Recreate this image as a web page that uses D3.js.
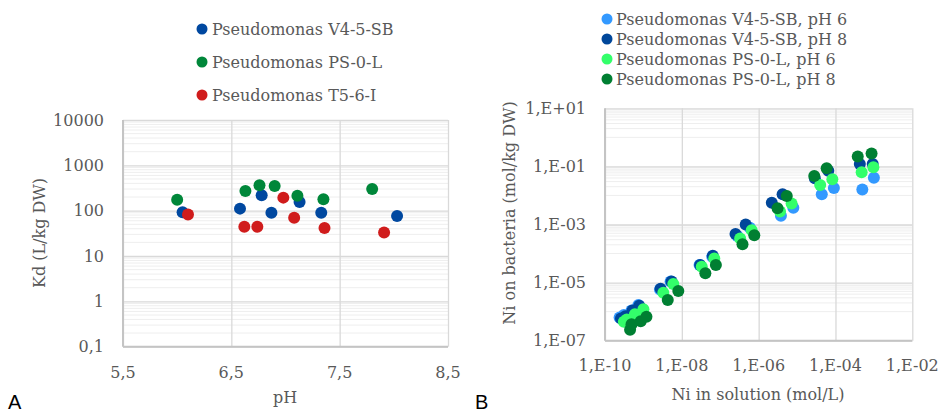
<!DOCTYPE html>
<html>
<head>
<meta charset="utf-8">
<script src="https://cdn.jsdelivr.net/npm/d3@7"></script>
<style>
  body { margin: 0; background: #fff; }
</style>
</head>
<body>
<div id="app"></div>
<script>
const width = 942
const height = 413
const serif = "DejaVu Serif"

// ---- panel A data ----
const phTicks = [5.5, 6.5, 7.5, 8.5]
const phTickLabels = ["5,5", "6,5", "7,5", "8,5"]
const kdTicks = [0.1, 1, 10, 100, 1000, 10000]
const kdTickLabels = ["0,1", "1", "10", "100", "1000", "10000"]
const seriesA = ["Pseudomonas V4-5-SB", "Pseudomonas PS-0-L", "Pseudomonas T5-6-I"]
const phV4 = [6.05, 6.58, 6.78, 6.87, 7.13, 7.33, 8.03]
const kdV4 = [92, 111, 218, 90, 155, 90, 76]
const phPS = [6.00, 6.63, 6.76, 6.90, 7.11, 7.35, 7.80]
const kdPS = [175, 272, 362, 350, 214, 178, 301]
const phT5 = [6.10, 6.62, 6.74, 6.98, 7.08, 7.36, 7.91]
const kdT5 = [82, 44, 44, 194, 70, 41.5, 33]

// ---- panel B data ----
const niSolTicks = [1e-10, 1e-8, 1e-6, 1e-4, 1e-2]
const niSolTickLabels = ["1,E-10", "1,E-08", "1,E-06", "1,E-04", "1,E-02"]
const niBacTicks = [1e-7, 1e-5, 1e-3, 1e-1, 1e1]
const niBacTickLabels = ["1,E-07", "1,E-05", "1,E-03", "1,E-01", "1,E+01"]
const seriesB = ["Pseudomonas V4-5-SB, pH 6", "Pseudomonas V4-5-SB, pH 8",
                 "Pseudomonas PS-0-L, pH 6", "Pseudomonas PS-0-L, pH 8"]
const solV4pH6 = [2.4e-10, 3.1e-10, 4.9e-10, 7.4e-10, 2.7e-9, 5.1e-9, 2.9e-8, 6.2e-8, 2.8e-7, 5.9e-7, 3.8e-6, 8.0e-6, 4.4e-5, 9.1e-5, 5.0e-4, 1.0e-3]
const bacV4pH6 = [6.3e-7, 7.6e-7, 1.1e-6, 1.7e-6, 5.8e-6, 1.1e-5, 4.0e-5, 7.8e-5, 4.0e-4, 7.8e-4, 2.0e-3, 3.8e-3, 1.1e-2, 1.8e-2, 1.6e-2, 4.1e-2]
const solV4pH8 = [2.6e-10, 3.4e-10, 5.2e-10, 7.8e-10, 2.8e-9, 5.4e-9, 3.0e-8, 6.4e-8, 2.5e-7, 4.6e-7, 2.2e-6, 4.2e-6, 2.9e-5, 6.5e-5, 4.3e-4, 9.3e-4]
const bacV4pH8 = [5.8e-7, 7.0e-7, 1.1e-6, 1.6e-6, 6.2e-6, 1.1e-5, 4.0e-5, 8.4e-5, 4.7e-4, 1.0e-3, 5.6e-3, 1.1e-2, 3.9e-2, 7.1e-2, 1.2e-1, 1.2e-1]
const solPSpH6 = [3.1e-10, 3.7e-10, 6.0e-10, 1.0e-9, 3.3e-9, 6.0e-9, 3.3e-8, 7.0e-8, 3.3e-7, 6.6e-7, 3.6e-6, 7.2e-6, 4.0e-5, 8.3e-5, 4.8e-4, 9.7e-4]
const bacPSpH6 = [4.5e-7, 5.4e-7, 8.2e-7, 1.2e-6, 4.5e-6, 8.9e-6, 3.5e-5, 6.8e-5, 3.3e-4, 6.4e-4, 2.8e-3, 5.3e-3, 2.3e-2, 3.6e-2, 6.3e-2, 9.3e-2]
const solPSpH8 = [4.5e-10, 4.9e-10, 8.5e-10, 1.2e-9, 4.3e-9, 8.1e-9, 4.1e-8, 7.7e-8, 3.8e-7, 7.7e-7, 3.1e-6, 5.4e-6, 2.8e-5, 5.9e-5, 3.8e-4, 8.7e-4]
const bacPSpH8 = [2.4e-7, 3.7e-7, 4.7e-7, 6.7e-7, 2.5e-6, 5.1e-6, 2.1e-5, 4.0e-5, 2.1e-4, 4.3e-4, 3.6e-3, 9.5e-3, 4.7e-2, 8.6e-2, 2.2e-1, 2.8e-1]

const colorsA = ["#0048a0", "#00873a", "#d01c1c"]
const colorsB = ["#3399ff", "#00479a", "#33ff6a", "#007f32"]
const textColor = "#595959"
const majorGrid = "#d9d9d9"
const minorGrid = "#eeeeee"
const r = 6

const svg = d3.select("#app").append("svg")
    .attr("width", width)
    .attr("height", height)
    .style("font-family", serif)

// ================= panel A =================
const xA = d3.scaleLinear().domain([5.5, 8.5]).range([123, 448])
const yA = d3.scaleLog().domain([0.1, 10000]).range([346.7, 120])

const gA = svg.append("g")

// minor horizontal gridlines
const minorA = []
kdTicks.slice(0, -1).forEach(t => d3.range(2, 10).forEach(m => minorA.push(t * m)))
gA.append("g").selectAll("line").data(minorA).join("line")
    .attr("x1", xA(5.5)).attr("x2", xA(8.5))
    .attr("y1", d => yA(d)).attr("y2", d => yA(d))
    .attr("stroke", minorGrid).attr("stroke-width", 1)

gA.append("g")
    .attr("transform", `translate(${xA(5.5)},0)`)
    .call(d3.axisLeft(yA).tickValues(kdTicks).tickSize(-(xA(8.5) - xA(5.5))).tickFormat(""))
    .call(g => g.select(".domain").remove())
    .call(g => g.selectAll(".tick line").attr("stroke", majorGrid).attr("stroke-width", 1.3))

gA.append("g")
    .attr("transform", `translate(0,${yA(0.1)})`)
    .call(d3.axisBottom(xA).tickValues(phTicks).tickSize(-(yA(0.1) - yA(10000))).tickFormat(""))
    .call(g => g.select(".domain").remove())
    .call(g => g.selectAll(".tick line").attr("stroke", majorGrid).attr("stroke-width", 1.3))

// axis lines
gA.append("line").attr("x1", xA(5.5)).attr("x2", xA(5.5)).attr("y1", yA(10000)).attr("y2", yA(0.1))
    .attr("stroke", "#c4c4c4").attr("stroke-width", 2)
gA.append("line").attr("x1", xA(5.5)).attr("x2", xA(8.5)).attr("y1", yA(0.1)).attr("y2", yA(0.1))
    .attr("stroke", "#c4c4c4").attr("stroke-width", 2)

// tick labels
gA.append("g").selectAll("text").data(kdTicks).join("text")
    .attr("x", 104).attr("y", d => yA(d)).attr("dy", "0.35em")
    .attr("text-anchor", "end").attr("font-size", 16).attr("fill", textColor)
    .text((d, i) => kdTickLabels[i])
gA.append("g").selectAll("text").data(phTicks).join("text")
    .attr("x", d => xA(d)).attr("y", 372).attr("dy", "0.35em")
    .attr("text-anchor", "middle").attr("font-size", 16).attr("fill", textColor)
    .text((d, i) => phTickLabels[i])

gA.append("text").attr("transform", "translate(39,233) rotate(-90)")
    .attr("dy", "0.35em").attr("text-anchor", "middle").attr("font-size", 16).attr("fill", textColor)
    .text("Kd (L/kg DW)")
gA.append("text").attr("x", 285).attr("y", 397).attr("dy", "0.35em")
    .attr("text-anchor", "middle").attr("font-size", 16).attr("fill", textColor)
    .text("pH")

const dataA = [
    d3.zip(phV4, kdV4),
    d3.zip(phPS, kdPS),
    d3.zip(phT5, kdT5)
]
dataA.forEach((pts, i) => {
    gA.append("g").selectAll("circle").data(pts).join("circle")
        .attr("cx", d => xA(d[0])).attr("cy", d => yA(d[1])).attr("r", r)
        .attr("fill", colorsA[i])
})

// legend A
const legA = gA.append("g").selectAll("g").data(seriesA).join("g")
    .attr("transform", (d, i) => `translate(202,${29 + i * 33})`)
legA.append("circle").attr("r", 5.5).attr("fill", (d, i) => colorsA[i])
legA.append("text").attr("x", 10).attr("dy", "0.35em").attr("font-size", 16)
    .attr("fill", textColor).text(d => d)

svg.append("text").attr("x", 8).attr("y", 409).attr("font-family", "Liberation Sans")
    .attr("font-size", 20).attr("fill", "#000").text("A")

// ================= panel B =================
const xB = d3.scaleLog().domain([1e-10, 1e-2]).range([605, 912.3])
const yB = d3.scaleLog().domain([1e-7, 1e1]).range([340.7, 108.3])

const gB = svg.append("g")

const minorB = []
niBacTicks.slice(0, -1).forEach(t => d3.range(1, 10).forEach(m => minorB.push(t * 10 * m)))
gB.append("g").selectAll("line").data(minorB).join("line")
    .attr("x1", xB(1e-10)).attr("x2", xB(1e-2))
    .attr("y1", d => yB(d)).attr("y2", d => yB(d))
    .attr("stroke", minorGrid).attr("stroke-width", 1)

gB.append("g")
    .attr("transform", `translate(${xB(1e-10)},0)`)
    .call(d3.axisLeft(yB).tickValues(niBacTicks).tickSize(-(xB(1e-2) - xB(1e-10))).tickFormat(""))
    .call(g => g.select(".domain").remove())
    .call(g => g.selectAll(".tick line").attr("stroke", majorGrid).attr("stroke-width", 1.3))

gB.append("g")
    .attr("transform", `translate(0,${yB(1e-7)})`)
    .call(d3.axisBottom(xB).tickValues(niSolTicks).tickSize(-(yB(1e-7) - yB(1e1))).tickFormat(""))
    .call(g => g.select(".domain").remove())
    .call(g => g.selectAll(".tick line").attr("stroke", majorGrid).attr("stroke-width", 1.3))

gB.append("line").attr("x1", xB(1e-10)).attr("x2", xB(1e-10)).attr("y1", yB(1e1)).attr("y2", yB(1e-7))
    .attr("stroke", "#c4c4c4").attr("stroke-width", 2)
gB.append("line").attr("x1", xB(1e-10)).attr("x2", xB(1e-2)).attr("y1", yB(1e-7)).attr("y2", yB(1e-7))
    .attr("stroke", "#c4c4c4").attr("stroke-width", 2)

gB.append("g").selectAll("text").data(niBacTicks).join("text")
    .attr("x", 586).attr("y", d => yB(d)).attr("dy", "0.35em")
    .attr("text-anchor", "end").attr("font-size", 16).attr("fill", textColor)
    .text((d, i) => niBacTickLabels[i])
gB.append("g").selectAll("text").data(niSolTicks).join("text")
    .attr("x", d => xB(d)).attr("y", 365).attr("dy", "0.35em")
    .attr("text-anchor", "middle").attr("font-size", 16).attr("fill", textColor)
    .text((d, i) => niSolTickLabels[i])

gB.append("text").attr("transform", "translate(509,213) rotate(-90)")
    .attr("dy", "0.35em").attr("text-anchor", "middle").attr("font-size", 16).attr("fill", textColor)
    .text("Ni on bacteria (mol/kg DW)")
gB.append("text").attr("x", 758).attr("y", 394).attr("dy", "0.35em")
    .attr("text-anchor", "middle").attr("font-size", 16).attr("fill", textColor)
    .text("Ni in solution (mol/L)")

const dataB = [
    d3.zip(solV4pH6, bacV4pH6),
    d3.zip(solV4pH8, bacV4pH8),
    d3.zip(solPSpH6, bacPSpH6),
    d3.zip(solPSpH8, bacPSpH8)
]
dataB.forEach((pts, i) => {
    gB.append("g").selectAll("circle").data(pts).join("circle")
        .attr("cx", d => xB(d[0])).attr("cy", d => yB(d[1])).attr("r", r)
        .attr("fill", colorsB[i])
})

const legB = gB.append("g").selectAll("g").data(seriesB).join("g")
    .attr("transform", (d, i) => `translate(607,${19 + i * 20})`)
legB.append("circle").attr("r", 5.5).attr("fill", (d, i) => colorsB[i])
legB.append("text").attr("x", 9).attr("dy", "0.35em").attr("font-size", 16)
    .attr("fill", textColor).text(d => d)

svg.append("text").attr("x", 475).attr("y", 409).attr("font-family", "Liberation Sans")
    .attr("font-size", 20).attr("fill", "#000").text("B")
</script>
</body>
</html>
